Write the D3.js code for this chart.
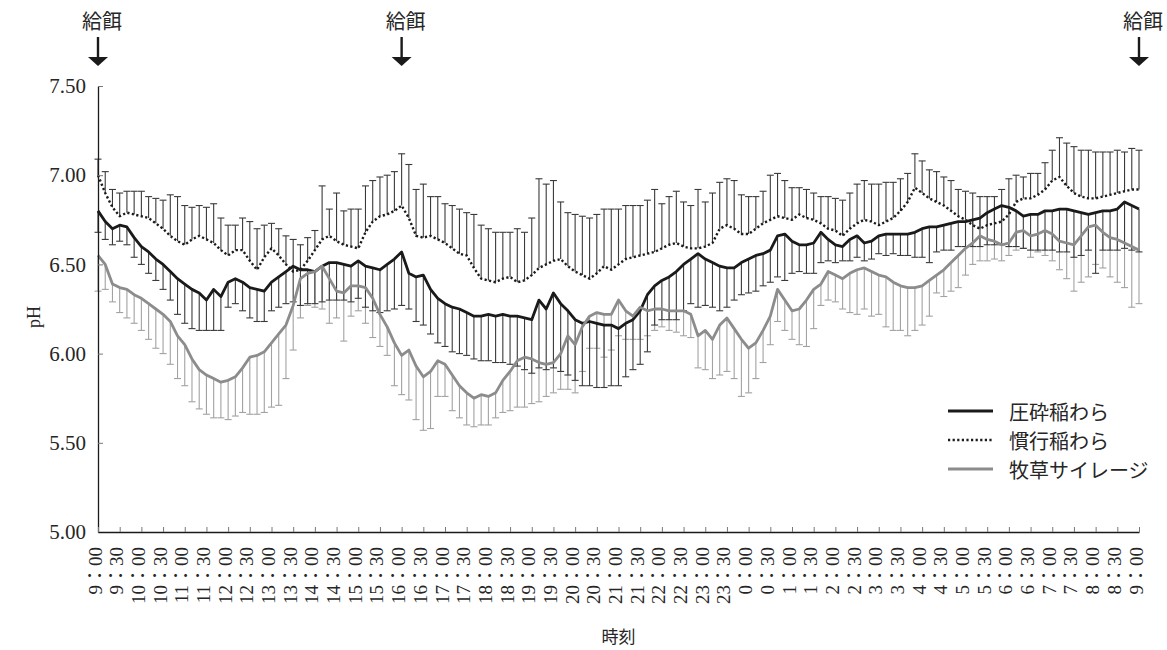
<!DOCTYPE html>
<html>
<head>
<meta charset="utf-8">
<script src="https://cdn.jsdelivr.net/npm/d3@7"></script>
<style>
  html, body { margin: 0; padding: 0; background: #fff; }
  svg { display: block; }
</style>
</head>
<body>
<svg id="chart" width="1167" height="650"></svg>
<script>
// Rumen pH, sampled every 10 minutes from 9:00 to 9:00 the next day.
const stepMinutes = 10;

// 圧砕稲わら (crushed rice straw): mean and SD (bars drawn downward)
const crushedMean = [
  6.80,6.74,6.70,6.72,6.71,6.65,
  6.60,6.57,6.53,6.50,6.46,6.42,
  6.39,6.36,6.34,6.30,6.36,6.32,
  6.40,6.42,6.40,6.37,6.36,6.35,
  6.40,6.43,6.46,6.49,6.47,6.47,
  6.46,6.49,6.51,6.51,6.50,6.49,
  6.52,6.49,6.48,6.47,6.50,6.53,
  6.57,6.45,6.43,6.44,6.36,6.31,
  6.28,6.26,6.25,6.23,6.21,6.21,
  6.22,6.21,6.22,6.21,6.21,6.20,
  6.19,6.30,6.25,6.34,6.28,6.24,
  6.19,6.17,6.18,6.17,6.16,6.16,
  6.14,6.17,6.19,6.24,6.33,6.38,
  6.41,6.43,6.46,6.50,6.53,6.56,
  6.53,6.51,6.49,6.48,6.48,6.51,
  6.53,6.55,6.56,6.58,6.66,6.67,
  6.63,6.61,6.61,6.62,6.68,6.64,
  6.61,6.60,6.64,6.66,6.62,6.63,
  6.66,6.67,6.67,6.67,6.67,6.68,
  6.70,6.71,6.71,6.72,6.73,6.74,
  6.74,6.75,6.76,6.79,6.81,6.83,
  6.82,6.80,6.77,6.78,6.78,6.80,
  6.80,6.81,6.81,6.80,6.79,6.78,
  6.79,6.80,6.80,6.81,6.85,6.83,
  6.81
];
const crushedSD = [
  0.12,0.10,0.09,0.09,0.10,0.11,
  0.10,0.12,0.12,0.14,0.16,0.20,
  0.22,0.22,0.21,0.17,0.23,0.19,
  0.14,0.14,0.16,0.17,0.18,0.17,
  0.16,0.17,0.18,0.20,0.20,0.19,
  0.18,0.20,0.21,0.21,0.20,0.20,
  0.21,0.23,0.24,0.24,0.26,0.28,
  0.30,0.20,0.25,0.28,0.25,0.25,
  0.24,0.25,0.25,0.24,0.24,0.25,
  0.26,0.26,0.27,0.27,0.28,0.29,
  0.30,0.38,0.34,0.42,0.38,0.36,
  0.34,0.35,0.36,0.36,0.35,0.34,
  0.32,0.30,0.28,0.30,0.32,0.22,
  0.22,0.24,0.27,0.26,0.25,0.30,
  0.26,0.25,0.25,0.22,0.18,0.18,
  0.19,0.20,0.18,0.18,0.23,0.26,
  0.18,0.15,0.16,0.17,0.17,0.12,
  0.10,0.08,0.12,0.12,0.10,0.10,
  0.10,0.12,0.11,0.12,0.12,0.14,
  0.16,0.20,0.14,0.14,0.15,0.14,
  0.14,0.15,0.16,0.18,0.20,0.22,
  0.22,0.20,0.18,0.20,0.20,0.22,
  0.22,0.24,0.24,0.26,0.24,0.20,
  0.34,0.22,0.22,0.23,0.26,0.25,
  0.24
];

// 慣行稲わら (conventional rice straw): mean and SD (bars drawn upward)
const conventionalMean = [
  7.00,6.90,6.82,6.77,6.79,6.78,
  6.77,6.76,6.73,6.70,6.66,6.63,
  6.61,6.64,6.66,6.64,6.62,6.58,
  6.55,6.58,6.58,6.52,6.47,6.54,
  6.59,6.55,6.50,6.46,6.47,6.52,
  6.58,6.64,6.66,6.63,6.61,6.60,
  6.59,6.68,6.74,6.77,6.78,6.80,
  6.83,6.76,6.66,6.65,6.66,6.64,
  6.62,6.59,6.56,6.55,6.48,6.42,
  6.41,6.40,6.42,6.43,6.40,6.41,
  6.44,6.48,6.50,6.52,6.53,6.49,
  6.46,6.44,6.42,6.45,6.49,6.47,
  6.50,6.53,6.54,6.55,6.56,6.57,
  6.59,6.61,6.62,6.60,6.59,6.59,
  6.60,6.62,6.70,6.72,6.70,6.67,
  6.67,6.70,6.73,6.75,6.77,6.76,
  6.75,6.78,6.76,6.75,6.73,6.70,
  6.69,6.66,6.70,6.73,6.75,6.74,
  6.72,6.74,6.76,6.80,6.85,6.93,
  6.90,6.87,6.85,6.83,6.80,6.77,
  6.75,6.72,6.70,6.72,6.73,6.74,
  6.78,6.85,6.87,6.87,6.89,6.92,
  6.97,6.99,6.94,6.90,6.88,6.87,
  6.87,6.88,6.89,6.90,6.91,6.92,
  6.92
];
const conventionalSD = [
  0.09,0.12,0.10,0.13,0.12,0.13,
  0.14,0.12,0.14,0.16,0.23,0.25,
  0.22,0.18,0.17,0.18,0.22,0.18,
  0.17,0.14,0.18,0.22,0.23,0.18,
  0.14,0.15,0.16,0.18,0.14,0.13,
  0.11,0.30,0.15,0.27,0.19,0.21,
  0.22,0.26,0.23,0.22,0.22,0.22,
  0.29,0.30,0.26,0.30,0.22,0.24,
  0.22,0.24,0.25,0.24,0.30,0.30,
  0.29,0.28,0.26,0.25,0.30,0.27,
  0.32,0.50,0.45,0.45,0.32,0.30,
  0.32,0.33,0.34,0.33,0.32,0.34,
  0.31,0.30,0.29,0.28,0.30,0.35,
  0.25,0.27,0.29,0.25,0.24,0.33,
  0.25,0.28,0.26,0.26,0.27,0.22,
  0.21,0.18,0.18,0.25,0.24,0.21,
  0.18,0.15,0.16,0.15,0.15,0.18,
  0.18,0.20,0.20,0.22,0.22,0.21,
  0.23,0.22,0.20,0.18,0.16,0.19,
  0.18,0.16,0.17,0.16,0.17,0.15,
  0.16,0.18,0.18,0.16,0.15,0.18,
  0.20,0.15,0.12,0.14,0.12,0.15,
  0.17,0.22,0.24,0.26,0.26,0.27,
  0.26,0.25,0.24,0.24,0.22,0.23,
  0.22
];

// 牧草サイレージ (grass silage): mean and SD (bars drawn downward)
const silageMean = [
  6.55,6.50,6.39,6.37,6.36,6.33,
  6.31,6.28,6.25,6.22,6.18,6.10,
  6.05,5.97,5.91,5.88,5.86,5.84,
  5.85,5.87,5.92,5.98,5.99,6.01,
  6.06,6.11,6.16,6.27,6.42,6.45,
  6.46,6.49,6.42,6.35,6.34,6.38,
  6.38,6.37,6.31,6.22,6.15,6.06,
  5.99,6.02,5.93,5.87,5.90,5.96,
  5.94,5.88,5.82,5.78,5.75,5.77,
  5.76,5.78,5.85,5.90,5.96,5.98,
  5.97,5.95,5.94,5.95,6.00,6.10,
  6.05,6.15,6.21,6.23,6.22,6.22,
  6.30,6.24,6.21,6.26,6.24,6.25,
  6.25,6.24,6.24,6.24,6.22,6.10,
  6.13,6.08,6.16,6.20,6.14,6.08,
  6.03,6.06,6.13,6.21,6.36,6.30,
  6.24,6.25,6.30,6.36,6.39,6.46,
  6.44,6.42,6.45,6.47,6.48,6.46,
  6.44,6.43,6.40,6.38,6.37,6.37,
  6.38,6.41,6.44,6.47,6.51,6.55,
  6.59,6.62,6.66,6.64,6.63,6.61,
  6.62,6.68,6.69,6.66,6.67,6.69,
  6.67,6.63,6.62,6.61,6.66,6.71,
  6.72,6.68,6.65,6.64,6.62,6.60,
  6.58
];
const silageSD = [
  0.20,0.14,0.10,0.14,0.16,0.16,
  0.18,0.20,0.22,0.22,0.24,0.24,
  0.23,0.24,0.22,0.22,0.22,0.20,
  0.22,0.22,0.25,0.32,0.33,0.34,
  0.36,0.40,0.30,0.25,0.22,0.18,
  0.20,0.24,0.25,0.15,0.27,0.17,
  0.14,0.20,0.22,0.18,0.16,0.24,
  0.22,0.28,0.30,0.30,0.32,0.20,
  0.18,0.20,0.18,0.18,0.16,0.17,
  0.16,0.14,0.18,0.22,0.26,0.28,
  0.25,0.22,0.18,0.17,0.20,0.30,
  0.27,0.25,0.18,0.20,0.24,0.20,
  0.20,0.16,0.13,0.18,0.14,0.12,
  0.10,0.11,0.12,0.14,0.13,0.18,
  0.22,0.22,0.28,0.30,0.28,0.32,
  0.25,0.20,0.18,0.16,0.18,0.17,
  0.16,0.20,0.26,0.22,0.12,0.16,
  0.15,0.17,0.22,0.25,0.23,0.25,
  0.22,0.28,0.27,0.25,0.27,0.24,
  0.22,0.20,0.10,0.15,0.16,0.18,
  0.15,0.12,0.14,0.12,0.10,0.09,
  0.07,0.10,0.10,0.12,0.10,0.14,
  0.15,0.16,0.20,0.26,0.26,0.28,
  0.22,0.20,0.22,0.24,0.25,0.34,
  0.30
];

// Axis ticks
const timeTickLabels = [
  "9：00","9：30","10：00","10：30","11：00","11：30","12：00","12：30",
  "13：00","13：30","14：00","14：30","15：00","15：30","16：00","16：30",
  "17：00","17：30","18：00","18：30","19：00","19：30","20：00","20：30",
  "21：00","21：30","22：00","22：30","23：00","23：30","0：00","0：30",
  "1：00","1：30","2：00","2：30","3：00","3：30","4：00","4：30",
  "5：00","5：30","6：00","6：30","7：00","7：30","8：00","8：30","9：00"
];
const phTicks = [5.00, 5.50, 6.00, 6.50, 7.00, 7.50];

// Feeding times, in minutes after 9:00
const feedingMinutes = [0, 420, 1440];
const feedingLabel = "給餌";

const seriesNames = ["圧砕稲わら", "慣行稲わら", "牧草サイレージ"];

// ---------------------------------------------------------------
const SERIF = '"Liberation Serif", "Times New Roman", "DejaVu Serif", "Noto Sans CJK JP", serif';
const JP = '"Noto Sans CJK JP", sans-serif';
const TEXT = "#262626";

const svg = d3.select("#chart");
const plotLeft = 98, plotRight = 1139, plotTop = 86, plotBottom = 532;

const x = d3.scaleLinear().domain([0, 1440]).range([plotLeft, plotRight]);
const y = d3.scaleLinear().domain([5, 7.5]).range([plotBottom, plotTop]);

const toPoints = (means, sds) => means.map((m, i) => ({ t: i * stepMinutes, m, sd: sds[i] }));

const series = [
  { name: seriesNames[0], data: toPoints(crushedMean, crushedSD), dir: -1,
    bar: "#3a3a3a", line: "#1a1a1a", width: 2.8, dash: null },
  { name: seriesNames[1], data: toPoints(conventionalMean, conventionalSD), dir: 1,
    bar: "#3a3a3a", line: "#1a1a1a", width: 2.4, dash: "2.2,2.4" },
  { name: seriesNames[2], data: toPoints(silageMean, silageSD), dir: -1,
    bar: "#a2a2a2", line: "#8c8c8c", width: 2.8, dash: null }
];

// Error bars: a stem from the mean to mean ± SD with a short cap
const capHalf = 3.5;
const barOrder = [series[2], series[0], series[1]];
barOrder.forEach(s => {
  const g = svg.append("g").attr("stroke", s.bar).attr("stroke-width", 1.1).attr("fill", "none");
  g.selectAll("line.stem").data(s.data).join("line")
    .attr("class", "stem")
    .attr("x1", d => x(d.t)).attr("x2", d => x(d.t))
    .attr("y1", d => y(d.m)).attr("y2", d => y(d.m + s.dir * d.sd));
  g.selectAll("line.cap").data(s.data).join("line")
    .attr("class", "cap")
    .attr("x1", d => x(d.t) - capHalf).attr("x2", d => x(d.t) + capHalf)
    .attr("y1", d => y(d.m + s.dir * d.sd)).attr("y2", d => y(d.m + s.dir * d.sd));
});

// Mean lines
const lineGen = d3.line().x(d => x(d.t)).y(d => y(d.m));
[series[1], series[0], series[2]].forEach(s => {
  svg.append("path")
    .datum(s.data)
    .attr("d", lineGen)
    .attr("fill", "none")
    .attr("stroke", s.line)
    .attr("stroke-width", s.width)
    .attr("stroke-linejoin", "round")
    .attr("stroke-dasharray", s.dash);
});

// Y axis
const yAxis = d3.axisLeft(y).tickValues(phTicks).tickFormat(d3.format(".2f"))
  .tickSizeInner(-5).tickSizeOuter(0).tickPadding(12);
const gy = svg.append("g").attr("transform", `translate(${plotLeft},0)`).call(yAxis);
gy.attr("font-family", null).attr("font-size", null);
gy.select(".domain").attr("stroke", "#1a1a1a").attr("stroke-width", 1.3);
gy.selectAll(".tick line").attr("stroke", "#777");
gy.selectAll(".tick text")
  .style("font-family", SERIF).style("font-size", "21px").attr("fill", TEXT);

// X axis
const tickMinutes = timeTickLabels.map((_, i) => i * 30);
const xAxis = d3.axisBottom(x).tickValues(tickMinutes).tickFormat("")
  .tickSizeInner(-5).tickSizeOuter(0);
const gx = svg.append("g").attr("transform", `translate(0,${plotBottom})`).call(xAxis);
gx.select(".domain").attr("stroke", "#1a1a1a").attr("stroke-width", 1.3);
gx.selectAll(".tick line").attr("stroke", "#777");

svg.append("g").selectAll("text").data(timeTickLabels).join("text")
  .style("font-family", SERIF).style("font-size", "19px").attr("fill", TEXT)
  .attr("text-anchor", "end")
  .attr("dominant-baseline", "central")
  .attr("transform", (d, i) => `translate(${x(tickMinutes[i]) - 3},${plotBottom + 15}) rotate(-90)`)
  .text(d => d);

// Axis titles
svg.append("text")
  .style("font-family", SERIF).style("font-size", "18px").attr("fill", TEXT)
  .attr("text-anchor", "middle")
  .attr("transform", `translate(40,${(plotTop + plotBottom) / 2 + 8}) rotate(-90)`)
  .text("pH");
svg.append("text")
  .style("font-family", JP).style("font-size", "17px").attr("fill", TEXT)
  .attr("text-anchor", "middle")
  .attr("x", (plotLeft + plotRight) / 2).attr("y", 643)
  .text("時刻");

// Feeding markers
const feed = svg.append("g").selectAll("g").data(feedingMinutes).join("g")
  .attr("transform", d => `translate(${x(d)},0)`);
feed.append("text")
  .style("font-family", JP).style("font-size", "20px").attr("fill", TEXT)
  .attr("text-anchor", "middle").attr("x", 4).attr("y", 29)
  .text(feedingLabel);
feed.append("line").attr("x1", 0).attr("x2", 0).attr("y1", 37).attr("y2", 60)
  .attr("stroke", "#1a1a1a").attr("stroke-width", 2.4);
feed.append("path").attr("d", "M-10,57 L10,57 L0,66 Z").attr("fill", "#1a1a1a");

// Legend
const legend = svg.append("g").selectAll("g").data(series).join("g")
  .attr("transform", (d, i) => `translate(948,${411 + i * 29})`);
legend.append("line").attr("x1", 0).attr("x2", 45).attr("y1", 0).attr("y2", 0)
  .attr("stroke", d => d.line).attr("stroke-width", d => d.width)
  .attr("stroke-dasharray", d => d.dash);
legend.append("text")
  .style("font-family", JP).style("font-size", "20px").attr("fill", TEXT)
  .attr("x", 61).attr("y", 0).attr("dominant-baseline", "central")
  .text(d => d.name);
</script>
</body>
</html>
